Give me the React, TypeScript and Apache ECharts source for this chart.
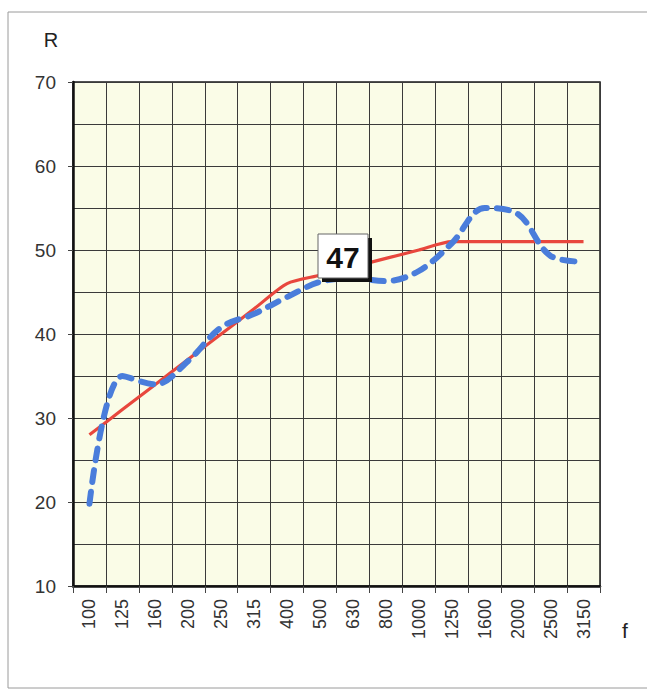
import React, { useEffect, useRef } from "react";
import * as echarts from "echarts";

const categories = ["100", "125", "160", "200", "250", "315", "400", "500", "630", "800", "1000", "1250", "1600", "2000", "2500", "3150"];
const referenceCurve = [28, 31, 34, 37, 40, 43, 46, 47, 48, 49, 50, 51, 51, 51, 51, 51];
const measured = [19.8, 35, 34, 36.8, 40.8, 42.4, 44.4, 46.2, 46.6, 46.3, 47.5, 50.8, 55, 54.3, 49.3, 48.6];
const yTicks = { min: 10, max: 70, interval: 10 };
const ratingLabel = "47";

const FONT = "'Liberation Sans', Arial, sans-serif";

export default function App() {
  const ref = useRef<HTMLDivElement>(null);
  useEffect(() => {
    if (!ref.current) return;
    const chart = echarts.init(ref.current, undefined, { renderer: "svg" });
    chart.setOption({
      animation: false,
      backgroundColor: "#ffffff",
      grid: {
        left: 73,
        right: 47,
        top: 82,
        bottom: 104,
        show: true,
        backgroundColor: "#fafce7",
        borderColor: "#1a1a1a",
        borderWidth: 1.5,
      },
      xAxis: {
        type: "category",
        data: categories,
        boundaryGap: true,
        axisLine: { show: true, lineStyle: { color: "#111", width: 2.5 } },
        axisTick: { show: true, alignWithLabel: false, length: 7, lineStyle: { color: "#444", width: 1 } },
        axisLabel: { rotate: 90, margin: 13, color: "#333", fontSize: 18, fontFamily: FONT, interval: 0 },
        splitLine: { show: true, interval: 0, lineStyle: { color: "#3a3a3a", width: 1 } },
      },
      yAxis: {
        type: "value",
        min: yTicks.min,
        max: yTicks.max,
        interval: yTicks.interval,
        axisLine: { show: true, lineStyle: { color: "#111", width: 2.5 } },
        axisTick: { show: true, length: 5, lineStyle: { color: "#444", width: 1 } },
        axisLabel: { margin: 17, color: "#333", fontSize: 19, fontFamily: FONT },
        splitLine: { show: true, lineStyle: { color: "#3a3a3a", width: 1 } },
        minorTick: { show: false, splitNumber: 2 },
        minorSplitLine: { show: true, lineStyle: { color: "#3a3a3a", width: 1 } },
      },
      series: [
        {
          type: "line",
          data: referenceCurve,
          smooth: 0.25,
          symbol: "none",
          lineStyle: { color: "#e8473d", width: 3.2 },
          z: 3,
        },
        {
          type: "line",
          data: measured,
          smooth: 0.35,
          symbol: "none",
          lineStyle: { color: "#4a7ddb", width: 6, type: [12, 10], cap: "round" },
          z: 4,
        },
      ],
      graphic: [
        {
          type: "rect",
          shape: { x: 8, y: 12, width: 660, height: 676 },
          style: { fill: "none", stroke: "#9a9a9a", lineWidth: 1 },
          silent: true,
        },
        {
          type: "text",
          x: 51,
          y: 40,
          style: { text: "R", fill: "#222", font: `20px ${FONT}`, align: "center", verticalAlign: "middle" },
        },
        {
          type: "text",
          x: 625,
          y: 630,
          style: { text: "f", fill: "#222", font: `21px ${FONT}`, align: "center", verticalAlign: "middle" },
        },
        {
          type: "rect",
          shape: { x: 322, y: 238, width: 50, height: 44 },
          style: { fill: "#111" },
          z: 10,
        },
        {
          type: "rect",
          shape: { x: 318, y: 234, width: 50, height: 44 },
          style: { fill: "#ffffff", stroke: "#666", lineWidth: 1 },
          z: 11,
        },
        {
          type: "text",
          x: 343,
          y: 257,
          style: { text: ratingLabel, fill: "#111", font: `bold 30px ${FONT}`, align: "center", verticalAlign: "middle" },
          z: 12,
        },
      ],
    });
    return () => chart.dispose();
  }, []);
  return <div ref={ref} style={{ position: "absolute", left: 0, top: 0, width: 647, height: 690 }} />;
}
